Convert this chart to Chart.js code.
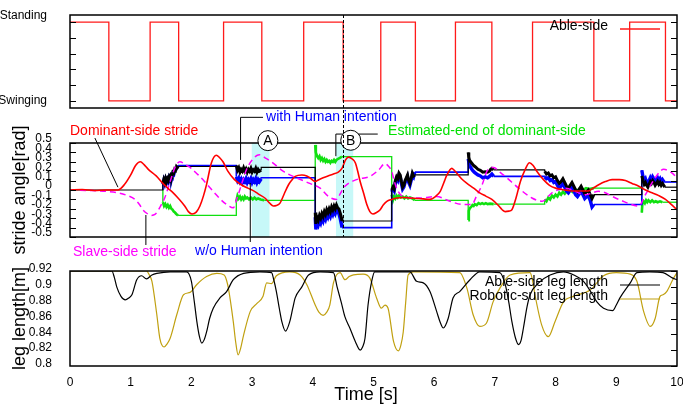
<!DOCTYPE html>
<html>
<head>
<meta charset="utf-8">
<script src="https://cdn.jsdelivr.net/npm/chart.js@4.4.1/dist/chart.umd.min.js"></script>
<style>
  html, body { margin: 0; padding: 0; background: #fff; }
  #wrap { position: relative; width: 683px; height: 404px; overflow: hidden; }
  canvas { position: absolute; left: 0; }
</style>
</head>
<body>
<div id="wrap">
  <canvas id="gait" width="683" height="112" style="top:0px"></canvas>
  <canvas id="stride" width="683" height="162" style="top:100px"></canvas>
  <canvas id="leg" width="683" height="142" style="top:262px"></canvas>
</div>
<script>
// ---- Data (time in s) ----
const gaitTimes  = [0, 0.64, 1.32, 1.79, 2.53, 3.16, 3.85, 4.5, 5.12, 5.69, 6.35, 6.95, 7.62, 8.63, 9.22, 9.81, 10];
const gaitStates = [1, 0, 1, 0, 1, 0, 1, 0, 1, 0, 1, 0, 1, 0, 1, 0];
const gaitTicks  = [0, 0.2, 0.4, 0.6, 0.8, 1];

const dominantStride = [
  [0,0],[0.2,0.005],[0.4,-0.005],[0.6,0.0],[0.79,0.0],[0.9,0.06],[1.0,0.16],[1.08,0.26],[1.16,0.30],[1.22,0.27],
  [1.29,0.22],[1.42,0.15],[1.53,0.07],[1.61,0.02],[1.70,-0.03],[1.78,-0.085],[1.89,-0.17],[1.95,-0.23],[2.01,-0.255],
  [2.08,-0.235],[2.14,-0.17],[2.20,-0.06],[2.25,0.06],[2.33,0.29],[2.41,0.37],[2.47,0.34],[2.52,0.30],[2.60,0.20],
  [2.71,0.11],[2.82,0.056],[2.93,0.02],[3.04,-0.014],[3.12,-0.05],[3.21,-0.085],[3.29,-0.14],[3.35,-0.17],[3.40,-0.165],
  [3.46,-0.14],[3.53,-0.04],[3.60,0.056],[3.66,0.11],[3.71,0.145],[3.82,0.16],[3.90,0.15],[3.95,0.13],[4.04,0.09],
  [4.10,0.11],[4.17,0.13],[4.25,0.15],[4.34,0.17],[4.42,0.19],[4.48,0.23],[4.54,0.32],[4.59,0.35],[4.65,0.33],
  [4.70,0.29],[4.74,0.20],[4.78,0.09],[4.84,-0.04],[4.89,-0.155],[4.94,-0.23],[4.99,-0.255],[5.05,-0.24],[5.11,-0.21],
  [5.16,-0.16],[5.22,-0.12],[5.30,-0.10],[5.38,-0.085],[5.50,-0.08],[5.60,-0.085],[5.75,-0.09],[5.93,-0.10],[6.02,-0.07],
  [6.10,-0.014],[6.16,0.08],[6.21,0.16],[6.29,0.23],[6.33,0.21],[6.37,0.18],[6.45,0.12],[6.54,0.07],[6.65,0.02],
  [6.75,-0.03],[6.85,-0.065],[6.95,-0.10],[7.05,-0.16],[7.12,-0.21],[7.17,-0.23],[7.23,-0.225],[7.28,-0.21],[7.35,-0.08],
  [7.42,0.09],[7.50,0.22],[7.57,0.29],[7.63,0.26],[7.69,0.20],[7.80,0.11],[7.90,0.05],[8.0,0.02],[8.15,0.0],[8.27,-0.01],
  [8.40,-0.01],[8.54,-0.01],[8.62,0.02],[8.71,0.056],[8.82,0.09],[8.93,0.11],[9.05,0.11],[9.15,0.10],[9.26,0.07],
  [9.37,0.04],[9.48,0.0],[9.59,-0.03],[9.70,-0.06],[9.81,-0.10],[9.90,-0.15],[10,-0.21]
];

const slaveStride = [
  [0,0],[0.3,-0.005],[0.6,-0.015],[0.79,-0.03],[0.95,-0.06],[1.07,-0.10],[1.15,-0.16],[1.20,-0.21],[1.27,-0.25],
  [1.34,-0.27],[1.40,-0.26],[1.45,-0.22],[1.50,-0.16],[1.56,-0.085],[1.62,0.03],[1.67,0.13],[1.73,0.24],[1.81,0.30],
  [1.90,0.27],[2.0,0.23],[2.08,0.18],[2.16,0.13],[2.27,0.05],[2.38,-0.03],[2.48,-0.10],[2.58,-0.155],[2.69,-0.19],
  [2.74,-0.11],[2.79,-0.014],[2.85,0.11],[2.91,0.22],[3.00,0.32],[3.12,0.375],[3.22,0.34],[3.32,0.30],[3.51,0.20],
  [3.73,0.13],[3.95,0.07],[4.12,0.02],[4.26,-0.07],[4.39,-0.10],[4.46,-0.03],[4.53,0.04],[4.72,0.11],[4.94,0.145],
  [5.08,0.21],[5.19,0.28],[5.25,0.25],[5.30,0.20],[5.34,0.10],[5.38,0.02],[5.49,-0.07],[5.77,-0.085],[6.04,-0.07],
  [6.26,-0.12],[6.48,-0.155],[6.62,-0.155],[6.70,-0.06],[6.79,0.056],[6.87,0.20],[6.98,0.24],[7.08,0.19],[7.17,0.145],
  [7.39,0.02],[7.61,-0.085],[7.78,-0.12],[7.94,-0.03],[8.16,0.02],[8.49,-0.05],[8.71,-0.014],[9.04,-0.10],[9.37,-0.17],
  [9.48,-0.05],[9.64,0.13],[9.78,0.22],[9.92,0.18],[10,0.13]
];

const estimatedEnd = [
  [1.53,0],
  [1.53,-0.13],[1.55,-0.17],[1.57,-0.15],[1.59,-0.18],[1.61,-0.16],[1.63,-0.19],[1.65,-0.17],[1.67,-0.20],[1.69,-0.21],
  [1.71,-0.23],[1.73,-0.24],[1.75,-0.255],[1.78,-0.27],
  [2.74,-0.27],
  [2.74,-0.12],[2.76,-0.06],[2.78,-0.09],[2.80,-0.07],[2.82,-0.10],[2.84,-0.08],[2.86,-0.10],[2.88,-0.07],[2.90,-0.09],
  [2.92,-0.08],[2.95,-0.10],[2.98,-0.08],[3.01,-0.10],[3.04,-0.08],[3.07,-0.10],[3.10,-0.09],[3.14,-0.10],[3.20,-0.11],
  [4.04,-0.11],
  [4.04,0.48],[4.05,0.40],[4.07,0.36],[4.09,0.34],[4.11,0.36],[4.13,0.32],[4.15,0.34],[4.17,0.31],[4.19,0.33],[4.21,0.30],
  [4.23,0.32],[4.25,0.30],[4.27,0.31],[4.29,0.29],[4.31,0.31],[4.33,0.30],[4.35,0.32],[4.37,0.30],[4.39,0.32],[4.41,0.33],
  [4.44,0.34],[4.48,0.354],
  [5.30,0.354],
  [5.30,-0.05],[5.32,-0.11],[5.34,-0.07],[5.36,-0.09],[5.38,-0.06],[5.40,-0.08],[5.42,-0.06],[5.45,-0.08],[5.48,-0.07],
  [5.51,-0.09],[5.54,-0.07],[5.57,-0.09],[5.60,-0.08],[5.64,-0.09],[5.68,-0.11],
  [6.56,-0.11],
  [6.56,-0.32],[6.57,-0.22],[6.59,-0.19],[6.61,-0.18],[6.63,-0.16],[6.65,-0.17],[6.67,-0.15],[6.70,-0.16],[6.73,-0.14],
  [6.76,-0.15],[6.79,-0.14],[6.82,-0.15],[6.85,-0.14],[6.88,-0.15],[6.92,-0.145],[6.98,-0.15],
  [7.82,-0.15],
  [7.82,-0.10],[7.85,-0.12],[7.88,-0.08],[7.91,-0.10],[7.94,-0.06],[7.97,-0.08],[8.00,-0.05],[8.03,-0.07],[8.06,-0.03],
  [8.09,-0.05],[8.12,-0.02],[8.15,-0.04],[8.18,-0.01],[8.21,-0.03],[8.24,0.0],[8.28,-0.02],[8.32,0.01],[8.36,-0.01],
  [8.40,0.02],[8.45,0.0],[8.50,0.02],[8.56,0.01],[8.63,0.02],
  [9.42,0.02],
  [9.42,-0.24],[9.43,-0.14],[9.45,-0.12],[9.47,-0.14],[9.49,-0.11],[9.51,-0.13],[9.53,-0.11],[9.56,-0.13],[9.59,-0.11],
  [9.62,-0.13],[9.65,-0.12],[9.68,-0.13],[9.72,-0.12],[9.76,-0.13],[9.80,-0.13],
  [10,-0.13]
];

const withIntention = [
  [0,0],[1.53,0],
  [1.53,0.07],[1.545,0.11],[1.56,0.08],[1.575,0.12],[1.59,0.09],[1.605,0.12],[1.62,0.10],[1.635,0.14],[1.65,0.12],
  [1.665,0.16],[1.68,0.15],[1.695,0.19],[1.71,0.18],[1.725,0.22],[1.74,0.21],[1.755,0.25],[1.77,0.24],[1.78,0.25],
  [2.74,0.25],
  [2.74,0.26],[2.76,0.21],[2.78,0.235],[2.80,0.19],[2.82,0.22],[2.84,0.20],[2.86,0.235],[2.88,0.20],[2.90,0.225],
  [2.92,0.19],[2.94,0.22],[2.96,0.20],[2.98,0.23],[3.00,0.19],[3.02,0.215],[3.04,0.20],[3.06,0.23],[3.08,0.19],
  [3.10,0.22],[3.12,0.20],[3.15,0.21],
  [3.15,0.24],[4.04,0.24],
  [4.04,-0.24],[4.05,-0.36],[4.07,-0.29],[4.09,-0.32],[4.11,-0.27],[4.13,-0.30],[4.15,-0.25],[4.17,-0.28],[4.19,-0.23],
  [4.21,-0.26],[4.23,-0.21],[4.25,-0.24],[4.27,-0.20],[4.29,-0.23],[4.31,-0.18],[4.33,-0.21],[4.35,-0.17],[4.37,-0.20],
  [4.39,-0.16],[4.41,-0.19],[4.43,-0.20],[4.45,-0.24],[4.47,-0.29],[4.48,-0.33],
  [5.30,-0.33],
  [5.30,0.0],[5.32,0.03],[5.34,0.01],[5.36,0.10],[5.38,0.14],[5.40,0.12],[5.42,0.18],[5.44,0.16],[5.46,0.09],[5.48,0.03],
  [5.50,0.05],[5.52,0.10],[5.54,0.13],[5.56,0.16],[5.58,0.10],[5.60,0.07],[5.62,0.12],[5.64,0.18],[5.66,0.15],[5.68,0.16],
  [6.56,0.16],
  [6.56,0.40],[6.57,0.35],[6.58,0.32],[6.60,0.30],[6.62,0.285],[6.65,0.26],[6.68,0.245],[6.72,0.22],[6.76,0.21],
  [6.80,0.19],[6.84,0.195],[6.88,0.19],[6.91,0.20],[6.93,0.22],[6.95,0.23],[6.98,0.215],
  [7.82,0.215],
  [7.82,0.20],[7.85,0.17],[7.88,0.18],[7.91,0.15],[7.94,0.16],[7.97,0.13],[8.00,0.14],[8.03,0.10],[8.06,0.07],
  [8.09,0.09],[8.12,0.12],[8.15,0.08],[8.18,0.04],[8.21,0.02],[8.24,0.05],[8.27,0.08],[8.30,0.04],[8.33,0.0],
  [8.36,-0.02],[8.39,0.01],[8.42,0.04],[8.45,0.0],[8.48,-0.04],[8.51,-0.02],[8.54,0.0],[8.57,-0.05],[8.60,-0.09],[8.63,-0.05],
  [9.42,-0.05],
  [9.42,0.15],[9.44,0.10],[9.46,0.06],[9.48,0.08],[9.50,0.05],[9.52,0.03],[9.54,0.06],[9.56,0.09],[9.58,0.07],
  [9.60,0.10],[9.62,0.08],[9.64,0.05],[9.66,0.07],[9.68,0.09],[9.70,0.06],[9.72,0.08],[9.74,0.05],[9.76,0.07],
  [9.78,0.05],[9.80,0.03],
  [10,0.03]
];

const withoutIntention = [
  [1.53,0.0],
  [1.53,0.06],[1.545,0.10],[1.56,0.07],[1.575,0.11],[1.59,0.08],[1.605,0.11],[1.62,0.09],[1.635,0.13],[1.65,0.11],
  [1.665,0.15],[1.68,0.14],[1.695,0.18],[1.71,0.17],[1.725,0.21],[1.74,0.21],[1.755,0.24],[1.77,0.245],[1.78,0.26],
  [2.74,0.26],
  [2.74,0.14],[2.76,0.10],[2.78,0.125],[2.80,0.09],[2.82,0.115],[2.84,0.08],[2.86,0.11],[2.88,0.09],[2.90,0.12],
  [2.92,0.08],[2.94,0.11],[2.96,0.09],[2.98,0.12],[3.00,0.08],[3.02,0.11],[3.04,0.09],[3.06,0.12],[3.08,0.08],
  [3.10,0.11],[3.12,0.09],[3.15,0.12],
  [3.15,0.13],[4.04,0.13],
  [4.04,-0.29],[4.05,-0.42],[4.07,-0.34],[4.09,-0.37],[4.11,-0.32],[4.13,-0.35],[4.15,-0.30],[4.17,-0.33],[4.19,-0.28],
  [4.21,-0.31],[4.23,-0.26],[4.25,-0.29],[4.27,-0.25],[4.29,-0.28],[4.31,-0.23],[4.33,-0.26],[4.35,-0.22],[4.37,-0.25],
  [4.39,-0.21],[4.41,-0.24],[4.43,-0.25],[4.45,-0.30],[4.47,-0.36],[4.48,-0.40],
  [5.30,-0.40],
  [5.30,-0.02],[5.32,0.01],[5.34,-0.01],[5.36,0.08],[5.38,0.12],[5.40,0.10],[5.42,0.16],[5.44,0.14],[5.46,0.07],
  [5.48,0.01],[5.50,0.03],[5.52,0.08],[5.54,0.11],[5.56,0.14],[5.58,0.08],[5.60,0.05],[5.62,0.10],[5.64,0.16],
  [5.66,0.14],[5.68,0.19],
  [6.56,0.19],
  [6.56,0.33],[6.58,0.27],[6.60,0.24],[6.63,0.21],[6.66,0.19],[6.69,0.175],[6.72,0.16],[6.76,0.15],[6.80,0.13],
  [6.84,0.14],[6.88,0.13],[6.92,0.15],[6.95,0.17],[6.98,0.145],
  [7.82,0.145],
  [7.82,0.14],[7.85,0.12],[7.88,0.13],[7.91,0.10],[7.94,0.11],[7.97,0.08],[8.00,0.09],[8.03,0.05],[8.06,0.02],
  [8.09,0.04],[8.12,0.07],[8.15,0.03],[8.18,-0.01],[8.21,-0.03],[8.24,0.0],[8.27,0.03],[8.30,-0.01],[8.33,-0.05],
  [8.36,-0.07],[8.39,-0.04],[8.42,-0.01],[8.45,-0.05],[8.48,-0.09],[8.51,-0.07],[8.54,-0.06],[8.57,-0.11],[8.60,-0.18],[8.63,-0.155],
  [9.42,-0.155],
  [9.42,0.21],[9.44,0.14],[9.46,0.10],[9.48,0.12],[9.50,0.08],[9.52,0.06],[9.54,0.10],[9.56,0.13],[9.58,0.10],
  [9.60,0.14],[9.62,0.12],[9.64,0.09],[9.66,0.11],[9.68,0.13],[9.70,0.10],[9.72,0.12],[9.74,0.09],[9.76,0.11],
  [9.78,0.09],[9.80,0.085],
  [10,0.085]
];

const shadeSpans  = [[2.99, 3.29], [4.38, 4.67]];
const strideTicks = [-0.5, -0.4, -0.3, -0.2, -0.1, 0, 0.1, 0.2, 0.3, 0.4, 0.5];
const markerTime  = 4.5;

const ableLeg = [
  [0,0.92],[0.69,0.92],[0.73,0.912],[0.77,0.900],[0.84,0.888],[0.91,0.8835],[0.97,0.886],[1.02,0.890],[1.10,0.909],
  [1.18,0.914],[1.26,0.910],[1.35,0.915],[1.43,0.917],[1.65,0.919],[1.92,0.919],[2.0,0.907],[2.05,0.88],[2.09,0.856],
  [2.13,0.838],[2.17,0.829],[2.21,0.833],[2.25,0.843],[2.30,0.86],[2.36,0.873],[2.47,0.886],[2.58,0.894],[2.69,0.909],
  [2.86,0.917],[3.13,0.919],[3.32,0.918],[3.36,0.908],[3.40,0.894],[3.45,0.872],[3.49,0.856],[3.55,0.844],[3.62,0.856],
  [3.67,0.873],[3.71,0.886],[3.82,0.900],[3.93,0.915],[4.12,0.919],[4.34,0.918],[4.40,0.90],[4.47,0.88],[4.53,0.862],
  [4.61,0.848],[4.70,0.831],[4.78,0.820],[4.82,0.824],[4.86,0.835],[4.91,0.877],[4.97,0.907],[5.02,0.919],[5.60,0.919],
  [5.71,0.907],[5.82,0.905],[5.93,0.894],[6.04,0.869],[6.10,0.855],[6.15,0.848],[6.23,0.860],[6.31,0.886],[6.42,0.894],
  [6.59,0.909],[6.75,0.919],[7.08,0.918],[7.17,0.903],[7.23,0.88],[7.28,0.856],[7.34,0.835],[7.39,0.827],[7.43,0.832],
  [7.47,0.848],[7.53,0.875],[7.58,0.890],[7.72,0.905],[7.91,0.915],[8.13,0.919],[8.30,0.915],[8.46,0.907],[8.57,0.895],
  [8.68,0.881],[8.79,0.873],[8.94,0.870],[9.0,0.877],[9.06,0.886],[9.23,0.905],[9.34,0.918],[9.55,0.919],[9.77,0.918],
  [9.93,0.911],[10,0.909]
];

const suitLeg = [
  [0,0.92],[1.26,0.92],[1.30,0.916],[1.35,0.907],[1.43,0.865],[1.48,0.835],[1.55,0.824],[1.60,0.828],[1.65,0.835],
  [1.76,0.865],[1.87,0.890],[1.98,0.893],[2.09,0.903],[2.25,0.913],[2.42,0.917],[2.54,0.915],[2.58,0.908],[2.61,0.898],
  [2.69,0.856],[2.73,0.83],[2.77,0.814],[2.81,0.822],[2.86,0.839],[2.97,0.869],[3.08,0.879],[3.18,0.888],[3.24,0.905],
  [3.32,0.904],[3.40,0.914],[3.62,0.919],[3.79,0.915],[3.90,0.903],[4.04,0.877],[4.10,0.868],[4.17,0.864],[4.23,0.868],
  [4.28,0.877],[4.34,0.905],[4.39,0.915],[4.45,0.918],[4.53,0.909],[4.60,0.913],[4.67,0.915],[4.83,0.916],[4.94,0.911],
  [5.05,0.886],[5.13,0.873],[5.19,0.877],[5.24,0.873],[5.33,0.831],[5.41,0.819],[5.45,0.826],[5.49,0.843],[5.53,0.88],
  [5.57,0.915],[5.66,0.919],[6.42,0.918],[6.54,0.898],[6.64,0.865],[6.75,0.850],[6.86,0.854],[6.97,0.881],[7.08,0.898],
  [7.25,0.915],[7.58,0.918],[7.62,0.908],[7.66,0.890],[7.77,0.852],[7.88,0.837],[7.99,0.856],[8.13,0.881],[8.29,0.888],
  [8.57,0.896],[8.79,0.914],[9.0,0.918],[9.23,0.916],[9.34,0.907],[9.45,0.869],[9.56,0.850],[9.64,0.860],[9.72,0.888],
  [9.77,0.890],[9.83,0.894],[9.93,0.909],[10,0.918]
];

const legTicks  = [0.8, 0.82, 0.84, 0.86, 0.88, 0.9, 0.92];
const timeTicks = [0, 1, 2, 3, 4, 5, 6, 7, 8, 9, 10];

// ---- Annotations (in data units of the stride panel) ----
const notes = [
  { text: 'Dominant-side stride', color: '#ff0000', at: [0, 0.63], path: [[0.41, 0.553], [0.79, 0.03]] },
  { text: 'Slave-side stride', color: '#ff00ff', at: [0.05, -0.66], path: [[1.25, -0.585], [1.25, -0.266]] },
  { text: 'with Human intention', color: '#0000ff', at: [3.23, 0.775], path: [[3.18, 0.773], [2.81, 0.773], [2.81, 0.32]] },
  { text: 'w/o Human intention', color: '#0000ff', at: [2.06, -0.65], path: [[2.97, -0.553], [2.97, 0.075]] },
  { text: 'Estimated-end of dominant-side', color: '#00e000', at: [5.24, 0.628], path: [[5.07, 0.595], [4.38, 0.595], [4.38, 0.36]] },
];
const circled = [{ text: 'A', at: [3.26, 0.525] }, { text: 'B', at: [4.625, 0.529] }];

// ---- Setup ----
const FONT = '"Liberation Sans", Arial, Helvetica, sans-serif';
Chart.defaults.font.family = FONT;
Chart.defaults.color = '#000';

const pts = arr => arr.map(([x, y]) => ({ x, y }));
// flat / vertical parts thin, noisy parts thick
const stepWidth = (thin, thick) => ctx =>
  (ctx.p0.parsed.y === ctx.p1.parsed.y || ctx.p0.parsed.x === ctx.p1.parsed.x) ? thin : thick;

const yFit = s => { s.width = 70; s.paddingTop = 0; s.paddingBottom = 0; };

// ---- Plugins ----
const frame = {
  id: 'frame',
  afterDatasetsDraw(chart, args, opts) {
    const { ctx, chartArea: a } = chart;
    const ys = chart.scales.y;
    ctx.save();
    ctx.strokeStyle = '#000';
    ctx.lineWidth = 1;
    ctx.setLineDash([]);
    ctx.beginPath();
    ys.ticks.forEach(t => {
      const py = Math.round(ys.getPixelForValue(t.value)) + 0.5;
      if (opts.left) { ctx.moveTo(a.left, py); ctx.lineTo(a.left + 6, py); }
      if (opts.right) { ctx.moveTo(a.right, py); ctx.lineTo(a.right - 6, py); }
    });
    ctx.stroke();
    ctx.lineWidth = 1.5;
    ctx.strokeRect(a.left, a.top, a.right - a.left, a.bottom - a.top);
    ctx.restore();
  }
};

const keyBox = {
  id: 'keyBox',
  afterDatasetsDraw(chart, args, opts) {
    if (!opts.show) return;
    const { ctx, chartArea: a } = chart;
    ctx.save();
    ctx.font = '14px ' + FONT;
    ctx.textAlign = 'right';
    ctx.textBaseline = 'middle';
    chart.data.datasets.forEach((ds, i) => {
      const y = a.top + 14 + i * 14;
      ctx.fillStyle = '#000';
      ctx.fillText(ds.label, a.right - 69, y - 3);
      ctx.strokeStyle = ds.borderColor;
      ctx.lineWidth = ds.borderWidth;
      ctx.beginPath();
      ctx.moveTo(a.right - 57, y);
      ctx.lineTo(a.right - 17, y);
      ctx.stroke();
    });
    ctx.restore();
  }
};

const callouts = {
  id: 'callouts',
  afterDatasetsDraw(chart, args, opts) {
    if (!opts.show) return;
    const { ctx } = chart;
    const X = v => chart.scales.x.getPixelForValue(v);
    const Y = v => chart.scales.y.getPixelForValue(v);
    ctx.save();
    ctx.strokeStyle = '#000';
    ctx.lineWidth = 1;
    notes.forEach(n => {
      ctx.beginPath();
      n.path.forEach(([x, y], i) => i ? ctx.lineTo(X(x), Y(y)) : ctx.moveTo(X(x), Y(y)));
      ctx.stroke();
    });
    ctx.font = '14px ' + FONT;
    ctx.textAlign = 'left';
    ctx.textBaseline = 'middle';
    notes.forEach(n => {
      ctx.fillStyle = n.color;
      ctx.fillText(n.text, X(n.at[0]), Y(n.at[1]));
    });
    ctx.textAlign = 'center';
    circled.forEach(c => {
      const cx = X(c.at[0]), cy = Y(c.at[1]);
      ctx.beginPath();
      ctx.arc(cx, cy, 10, 0, Math.PI * 2);
      ctx.fillStyle = '#fff';
      ctx.fill();
      ctx.stroke();
      ctx.fillStyle = '#000';
      ctx.fillText(c.text, cx, cy + 0.5);
    });
    ctx.restore();
  }
};

const marker = {
  id: 'marker',
  afterDraw(chart, args, opts) {
    if (!opts.show) return;
    const { ctx, chartArea: a } = chart;
    const x = Math.round(chart.scales.x.getPixelForValue(markerTime)) + 0.5;
    ctx.save();
    ctx.strokeStyle = '#000';
    ctx.lineWidth = 1;
    ctx.setLineDash([3, 2]);
    ctx.beginPath();
    ctx.moveTo(x, opts.fromCanvasTop ? 0 : a.top);
    ctx.lineTo(x, opts.toCanvasBottom ? chart.height : a.bottom);
    ctx.stroke();
    ctx.restore();
  }
};

const commonPlugins = { legend: { display: false }, tooltip: { enabled: false } };

// ---- Gait phase panel ----
new Chart(document.getElementById('gait'), {
  type: 'line',
  data: {
    datasets: [{
      label: 'Able-side',
      data: gaitTimes.map((t, i) => ({ x: t, y: gaitStates[Math.min(i, gaitStates.length - 1)] })),
      borderColor: '#ff1a1a',
      borderWidth: 1.3,
      stepped: true,
      pointRadius: 0,
    }],
  },
  options: {
    responsive: false,
    animation: false,
    layout: { padding: { top: 15, right: 6, bottom: 4, left: 0 } },
    plugins: {
      ...commonPlugins,
      frame: { left: true, right: true },
      keyBox: { show: true },
      marker: { show: true, toCanvasBottom: true },
    },
    scales: {
      x: { type: 'linear', min: 0, max: 10, display: false },
      y: {
        min: -0.09, max: 1.09,
        afterBuildTicks: s => { s.ticks = gaitTicks.map(v => ({ value: v })); },
        afterFit: yFit,
        grid: { display: false },
        border: { display: false },
        ticks: {
          padding: 15, autoSkip: false, font: { size: 12, lineHeight: 1 },
          callback: v => v === 1 ? ['Standing', ''] : v === 0 ? 'Swinging' : '',
        },
      },
    },
  },
  plugins: [frame, keyBox, marker],
});

// ---- Stride angle panel ----
const shadeSets = shadeSpans.map(([a, b], i) => ({
  label: 'shade' + i,
  data: [{ x: a, y: 0.5 }, { x: b, y: 0.5 }],
  borderWidth: 0,
  pointRadius: 0,
  fill: { value: -0.5 },
  backgroundColor: 'rgba(0,225,225,0.22)',
  order: 10,
}));

new Chart(document.getElementById('stride'), {
  type: 'line',
  data: {
    datasets: [
      { label: 'Dominant-side stride', data: pts(dominantStride), borderColor: '#ff0000', borderWidth: 1.6,
        cubicInterpolationMode: 'monotone', pointRadius: 0, order: 0 },
      { label: 'Slave-side stride', data: pts(slaveStride), borderColor: '#ff00ff', borderWidth: 1.5,
        borderDash: [6, 4], cubicInterpolationMode: 'monotone', pointRadius: 0, order: 1 },
      { label: 'with Human intention', data: pts(withIntention), borderColor: '#000000', borderWidth: 3,
        segment: { borderWidth: stepWidth(1.2, 3) }, pointRadius: 0, order: 2 },
      { label: 'w/o Human intention', data: pts(withoutIntention), borderColor: '#0000ff', borderWidth: 3.4,
        segment: { borderWidth: stepWidth(1.6, 3.4) }, pointRadius: 0, order: 3 },
      { label: 'Estimated-end of dominant-side', data: pts(estimatedEnd), borderColor: '#10e010', borderWidth: 2.6,
        segment: { borderWidth: stepWidth(1.3, 2.6) }, pointRadius: 0, order: 4 },
      ...shadeSets,
    ],
  },
  options: {
    responsive: false,
    animation: false,
    layout: { padding: { top: 43, right: 6, bottom: 25, left: 0 } },
    plugins: {
      ...commonPlugins,
      frame: { left: true, right: true },
      callouts: { show: true },
      marker: { show: true, fromCanvasTop: true },
    },
    scales: {
      x: { type: 'linear', min: 0, max: 10, display: false },
      y: {
        min: -0.5, max: 0.5,
        afterBuildTicks: s => { s.ticks = strideTicks.map(v => ({ value: v })); },
        afterFit: yFit,
        grid: { display: false },
        border: { display: false },
        title: { display: true, text: 'stride angle[rad]', font: { size: 18 }, padding: { top: 9, bottom: 0 } },
        ticks: {
          padding: 10, autoSkip: false, labelOffset: -4, font: { size: 12 },
          callback: v => String(Math.round(v * 10) / 10 || 0),
        },
      },
    },
  },
  plugins: [frame, callouts, marker],
});

// ---- Leg length panel ----
new Chart(document.getElementById('leg'), {
  type: 'line',
  data: {
    datasets: [
      { label: 'Able-side leg length', data: pts(ableLeg), borderColor: '#000000', borderWidth: 1.2,
        cubicInterpolationMode: 'monotone', pointRadius: 0 },
      { label: 'Robotic-suit leg length', data: pts(suitLeg), borderColor: '#c0a010', borderWidth: 1.2,
        cubicInterpolationMode: 'monotone', pointRadius: 0 },
    ],
  },
  options: {
    responsive: false,
    animation: false,
    layout: { padding: { top: 9, right: 6, bottom: 0, left: 0 } },
    plugins: {
      ...commonPlugins,
      frame: { left: false, right: true },
      keyBox: { show: true },
    },
    scales: {
      x: {
        type: 'linear', min: 0, max: 10,
        afterBuildTicks: s => { s.ticks = timeTicks.map(v => ({ value: v })); },
        afterFit: s => { s.height = 38; s.paddingLeft = 0; s.paddingRight = 0; },
        grid: { display: false },
        border: { display: false },
        title: { display: true, text: 'Time [s]\u00a0\u00a0\u00a0', font: { size: 18 }, padding: { top: 0, bottom: -2 } },
        ticks: { padding: 1, autoSkip: false, maxRotation: 0, font: { size: 12 }, callback: v => String(v) },
      },
      y: {
        min: 0.8, max: 0.92,
        afterBuildTicks: s => { s.ticks = legTicks.map(v => ({ value: v })); },
        afterFit: yFit,
        grid: { display: false },
        border: { display: false },
        title: { display: true, text: 'leg length[m]', font: { size: 18 }, padding: { top: 9, bottom: 0 } },
        ticks: {
          padding: 10, autoSkip: false, labelOffset: -2, font: { size: 12 },
          callback: v => String(+v.toFixed(2)),
        },
      },
    },
  },
  plugins: [frame, keyBox],
});
</script>
</body>
</html>
